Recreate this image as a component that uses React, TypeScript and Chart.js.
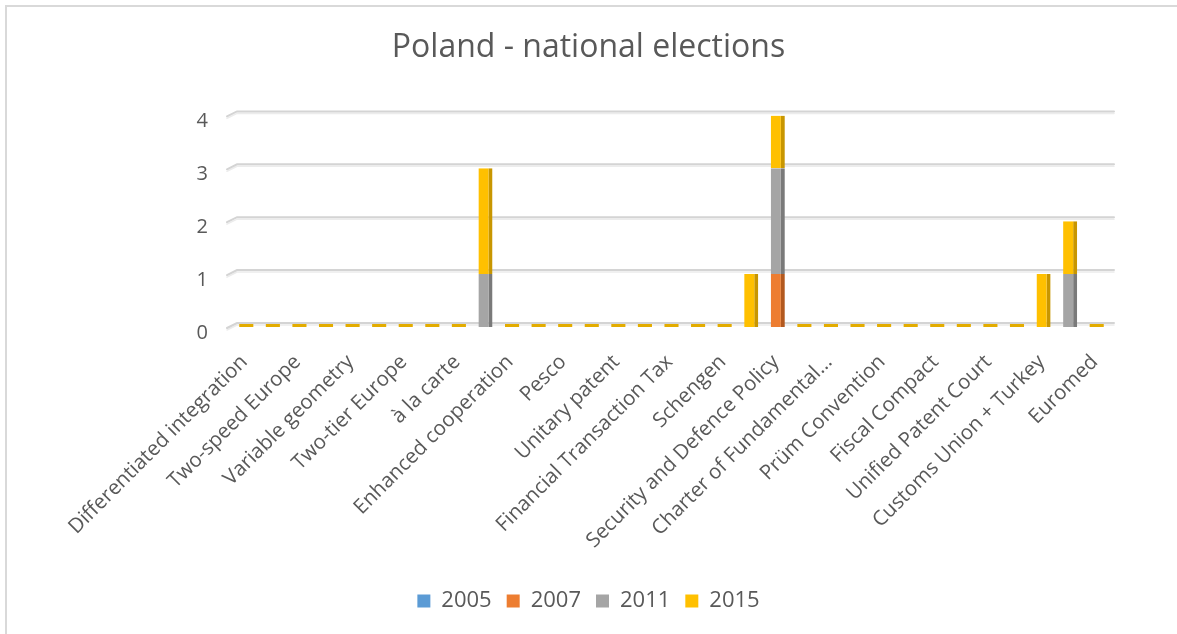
import React, { useEffect, useRef } from "react";
import { Chart, registerables } from "chart.js";

Chart.register(...registerables);

const categories: string[] = [
  "Differentiated integration", "",
  "Two-speed Europe", "",
  "Variable geometry", "",
  "Two-tier Europe", "",
  "à la carte", "",
  "Enhanced cooperation", "",
  "Pesco", "",
  "Unitary patent", "",
  "Financial Transaction Tax", "",
  "Schengen", "",
  "Security and Defence Policy", "",
  "Charter of Fundamental...", "",
  "Prüm Convention", "",
  "Fiscal Compact", "",
  "Unified Patent Court", "",
  "Customs Union + Turkey", "",
  "Euromed",
];

const seriesNames = ["2005", "2007", "2011", "2015"];

const values2005 = [0, 0, 0, 0, 0, 0, 0, 0, 0, 0, 0, 0, 0, 0, 0, 0, 0, 0, 0, 0, 0, 0, 0, 0, 0, 0, 0, 0, 0, 0, 0, 0, 0];
const values2007 = [0, 0, 0, 0, 0, 0, 0, 0, 0, 0, 0, 0, 0, 0, 0, 0, 0, 0, 0, 0, 1, 0, 0, 0, 0, 0, 0, 0, 0, 0, 0, 0, 0];
const values2011 = [0, 0, 0, 0, 0, 0, 0, 0, 0, 1, 0, 0, 0, 0, 0, 0, 0, 0, 0, 0, 2, 0, 0, 0, 0, 0, 0, 0, 0, 0, 0, 1, 0];
const values2015 = [0, 0, 0, 0, 0, 0, 0, 0, 0, 2, 0, 0, 0, 0, 0, 0, 0, 0, 0, 1, 1, 0, 0, 0, 0, 0, 0, 0, 0, 0, 1, 1, 0];

const yTicks = [0, 1, 2, 3, 4];

const TEXT = "#595959";
const FONT = "'Open Sans'";

const wallGrid = {
  id: "wallGrid",
  beforeDatasetsDraw(chart: any) {
    const { ctx, chartArea, scales } = chart;
    const y = scales.y;
    ctx.save();
    for (const v of yTicks) {
      const py = y.getPixelForValue(v) - 4;
      ctx.lineCap = "round";
      ctx.strokeStyle = "#ececec";
      ctx.lineWidth = 1.5;
      ctx.beginPath();
      ctx.moveTo(chartArea.left - 6, py + 7);
      ctx.lineTo(chartArea.left + 4, py + 2);
      ctx.lineTo(chartArea.right + 4, py + 2);
      ctx.stroke();
      ctx.strokeStyle = "#d4d4d4";
      ctx.lineWidth = 2;
      ctx.beginPath();
      ctx.moveTo(chartArea.left - 6, py + 5);
      ctx.lineTo(chartArea.left + 4, py);
      ctx.lineTo(chartArea.right + 4, py);
      ctx.stroke();
    }
    ctx.restore();
  },
};

const sideBorder = (c: any) =>
  c.raw === 0 ? 0 : { right: 4, top: 0, left: 0, bottom: 0 };

export default function App() {
  const ref = useRef<HTMLCanvasElement | null>(null);

  useEffect(() => {
    if (!ref.current) return;
    Chart.defaults.font.family = FONT;
    const chart = new Chart(ref.current, {
      type: "bar",
      data: {
        labels: categories,
        datasets: [
          {
            label: seriesNames[0],
            data: values2005,
            backgroundColor: "#5B9BD5",
            borderColor: "#41719C",
            borderWidth: sideBorder,
            borderSkipped: false,
          },
          {
            label: seriesNames[1],
            data: values2007,
            backgroundColor: "#ED7D31",
            borderColor: "#B3591F",
            borderWidth: sideBorder,
            borderSkipped: false,
          },
          {
            label: seriesNames[2],
            data: values2011,
            backgroundColor: "#A5A5A5",
            borderColor: "#7A7A7A",
            borderWidth: sideBorder,
            borderSkipped: false,
          },
          {
            label: seriesNames[3],
            data: values2015,
            backgroundColor: (c: any) => (c.raw === 0 ? "#E3AC00" : "#FFC000"),
            borderColor: "#C89600",
            borderWidth: sideBorder,
            borderSkipped: false,
            minBarLength: 3,
          },
        ],
      },
      options: {
        animation: false,
        responsive: false,
        layout: { padding: { left: 0, right: 0, top: 0, bottom: 12 } },
        datasets: {
          bar: { barPercentage: 0.53, categoryPercentage: 1 },
        },
        plugins: {
          title: {
            display: true,
            text: "Poland - national elections",
            color: TEXT,
            font: { family: FONT, size: 32, weight: "normal" },
            padding: { top: 29, bottom: 48 },
          },
          legend: {
            position: "bottom",
            labels: {
              color: TEXT,
              font: { family: FONT, size: 22 },
              boxWidth: 13,
              boxHeight: 13,
              padding: 15,
              generateLabels: (c: any) =>
                c.data.datasets.map((ds: any, i: number) => ({
                  text: ds.label,
                  fillStyle: ["#5B9BD5", "#ED7D31", "#A5A5A5", "#FFC000"][i],
                  strokeStyle: "rgba(0,0,0,0)",
                  lineWidth: 0,
                  fontColor: TEXT,
                  hidden: false,
                  datasetIndex: i,
                })),
            },
          },
          tooltip: { enabled: false },
        },
        scales: {
          x: {
            stacked: true,
            grid: { display: false, drawTicks: false },
            border: { display: false },
            ticks: {
              autoSkip: false,
              minRotation: 45,
              maxRotation: 45,
              padding: 23,
              labelOffset: -2,
              color: TEXT,
              font: { family: FONT, size: 20.5 },
            },
            afterFit: (s: any) => {
              s.height = 248;
            },
          },
          y: {
            stacked: true,
            min: 0,
            max: 4,
            grid: { display: false, drawTicks: false },
            border: { display: false },
            ticks: {
              stepSize: 1,
              padding: 25,
              labelOffset: 6,
              color: TEXT,
              font: { family: FONT, size: 20 },
            },
            afterFit: (s: any) => {
              s.width = 233;
            },
          },
          yRight: {
            type: "linear",
            position: "right",
            display: true,
            grid: { display: false, drawTicks: false },
            border: { display: false },
            ticks: { display: false },
            afterFit: (s: any) => {
              s.width = 67;
            },
          },
        },
      },
      plugins: [wallGrid],
    } as any);
    return () => chart.destroy();
  }, []);

  return (
    <div
      style={{
        position: "absolute",
        left: 0,
        top: 0,
        width: 1177,
        height: 634,
        overflow: "hidden",
        background: "#ffffff",
      }}
    >
      <div
        style={{
          position: "absolute",
          left: 5,
          top: 5,
          width: 1200,
          height: 660,
          border: "2px solid #d9d9d9",
          boxSizing: "border-box",
        }}
      />
      <canvas
        ref={ref}
        width={1177}
        height={634}
        style={{ position: "absolute", left: 0, top: 0, width: 1177, height: 634 }}
      />
    </div>
  );
}
